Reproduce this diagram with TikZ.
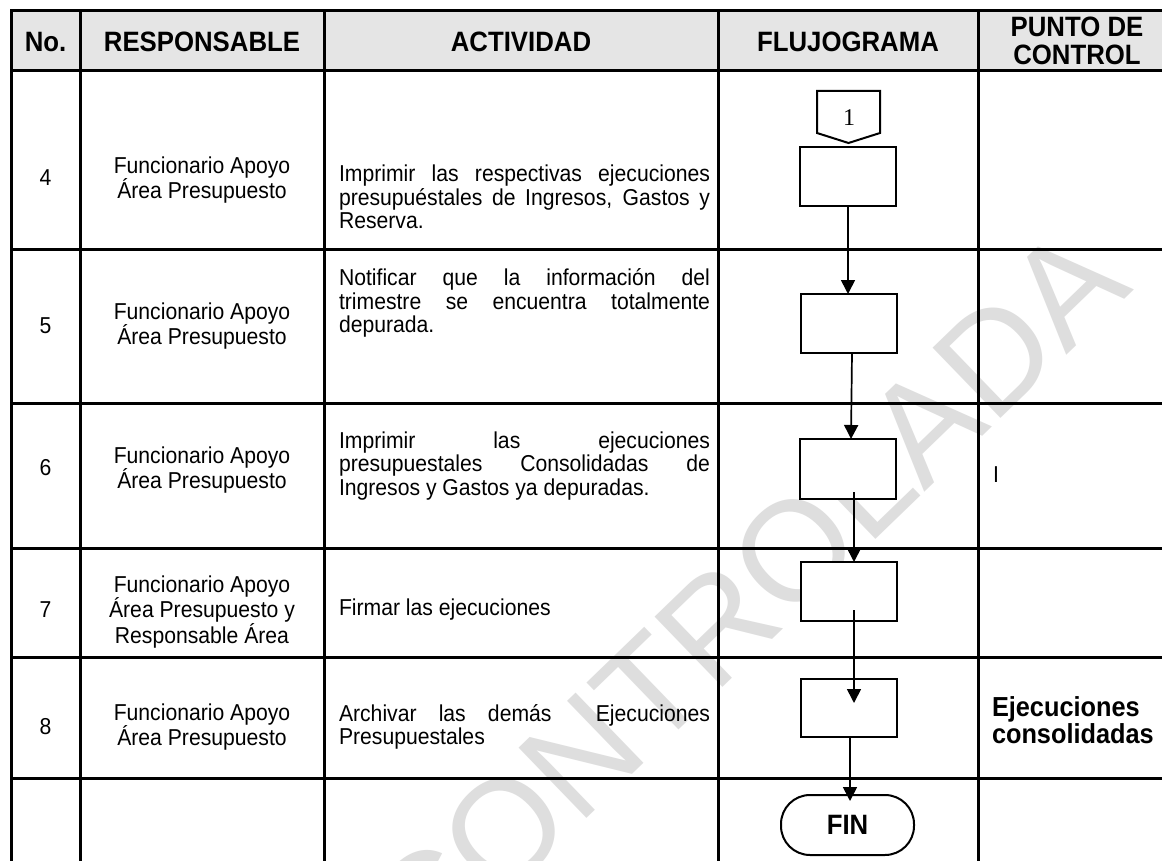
\documentclass[tikz,border=0pt]{standalone}
\usepackage{fontspec}
\setmainfont{Liberation Sans}
\newfontfamily\bodyf{Liberation Sans}[FakeStretch=0.92]
\newfontfamily\headf{Liberation Sans}[FakeStretch=0.92]
\newfontfamily\serf{Liberation Serif}
\usetikzlibrary{arrows.meta}
\newcommand{\actsetup}{\tolerance=10000\relax\hbadness=10000\relax\hyphenpenalty=10000\relax}
\begin{document}
\begin{tikzpicture}[x=1pt,y=-1pt,
  every node/.style={inner sep=0pt,outer sep=0pt},
  grid/.style={line width=3pt,line cap=rect},
  hdr/.style={fill=black!10},
  headtxt/.style={font=\headf\bfseries\fontsize{28}{28}\selectfont,align=center},
  bodytxt/.style={font=\bodyf\fontsize{23}{23.5}\selectfont,align=center},
  acttxt/.style={font=\bodyf\fontsize{23}{23.5}\selectfont\actsetup,
                 text width=371pt,align=justify,anchor=west},
  ctltxt/.style={font=\headf\bfseries\fontsize{27.5}{27}\selectfont,align=left,anchor=west},
  procbox/.style={draw,line width=2pt,fill=white,minimum width=96pt,minimum height=59pt},
  endbox/.style={draw,line width=2pt,fill=white,minimum width=133pt,minimum height=60pt,rounded corners=29pt,
                 font=\headf\bfseries\fontsize{28}{28}\selectfont},
  arr/.style={line width=1.7pt,-{Triangle[width=14pt,length=14pt]}},
  wmark/.style={font=\fontsize{142}{142}\selectfont,text=black!13}
]
\useasboundingbox (0,0) rectangle (1162,861);
\fill[white] (0,0) rectangle (1162,861);

% watermark
\node[wmark,rotate=44] (wm) at (746,597) {CONTROLADA};

% header band
\fill[hdr] (11,11) rectangle (1165,71);

% grid
\foreach \yy in {11,71,250,403,548,657,778} \draw[grid] (11,\yy) -- (1166,\yy);
\foreach \xx in {11,80,324,718,978} \draw[grid] (\xx,11) -- (\xx,866);

% header texts
\node[headtxt] (hno) at (45.5,42) {No.};
\node[headtxt] (hresp) at (202,42) {RESPONSABLE};
\node[headtxt] (hact) at (521,42) {ACTIVIDAD};
\node[headtxt] (hflu) at (848,42) {FLUJOGRAMA};
\node[headtxt] (hctl) at (1077,41) {PUNTO DE\\CONTROL};

% numbers
\node[bodytxt] (n4) at (45.5,178) {4};
\node[bodytxt] (n5) at (45.5,326) {5};
\node[bodytxt] (n6) at (45.5,468) {6};
\node[bodytxt] (n7) at (45.5,610) {7};
\node[bodytxt] (n8) at (45.5,727) {8};

% responsables
\node[bodytxt] (r4) at (202,180) {Funcionario Apoyo\\Área Presupuesto};
\node[bodytxt] (r5) at (202,326) {Funcionario Apoyo\\Área Presupuesto};
\node[bodytxt] (r6) at (202,470) {Funcionario Apoyo\\Área Presupuesto};
\node[bodytxt] (r7) at (202,612) {Funcionario Apoyo\\Área Presupuesto y\\Responsable Área};
\node[bodytxt] (r8) at (202,727) {Funcionario Apoyo\\Área Presupuesto};

% actividades
\node[acttxt] (a4) at (339,197) {Imprimir las respectivas ejecuciones\linebreak presupuéstales de Ingresos, Gastos y\linebreak Reserva.};
\node[acttxt] (a5) at (339,303) {Notificar que la información del\linebreak trimestre se encuentra totalmente\linebreak depurada.};
\node[acttxt] (a6) at (339,466) {Imprimir las ejecuciones\linebreak presupuestales Consolidadas de\linebreak Ingresos y Gastos ya depuradas.};
\node[acttxt] (a7) at (339,610) {Firmar las ejecuciones};
\node[acttxt] (a8) at (339,727) {Archivar las demás \ Ejecuciones\linebreak Presupuestales};

% punto de control
\node[bodytxt,anchor=west] (p6) at (993,475) {I};
\node[ctltxt] (p8) at (992,720) {Ejecuciones\\consolidadas};

% flowchart
\draw[line width=2pt,fill=white,line join=miter] (817,91) -- (880,91) -- (880,133) -- (848.5,143) -- (817,133) -- cycle;
\node[font=\serf\fontsize{24}{24}\selectfont] (c1) at (849,118) {1};
\node[procbox] (b4) at (848,176.5) {};
\node[procbox] (b5) at (848.5,323.5) {};
\node[procbox,minimum height=60pt] (b6) at (848,469) {};
\node[procbox] (b7) at (849,591.5) {};
\node[procbox,minimum height=58pt] (b8) at (849,708) {};
\node[endbox] (fin) at (847.5,825) {FIN};

\coordinate (a3s) at (854,492);
\coordinate (a4s) at (854,610);
\coordinate (a4e) at (854,703);

\draw[arr] (b4.south) -- (b5.north -| b4.south);
\draw[arr] ([xshift=3.5pt]b5.south) -- ([xshift=3pt]b6.north);
\draw[arr] (a3s) -- ([xshift=5pt]b7.north);
\draw[arr] (a4s) -- (a4e);
\draw[arr] ([xshift=1pt]b8.south) -- ([xshift=2.5pt,yshift=-6pt]fin.north);
\end{tikzpicture}
\end{document}
